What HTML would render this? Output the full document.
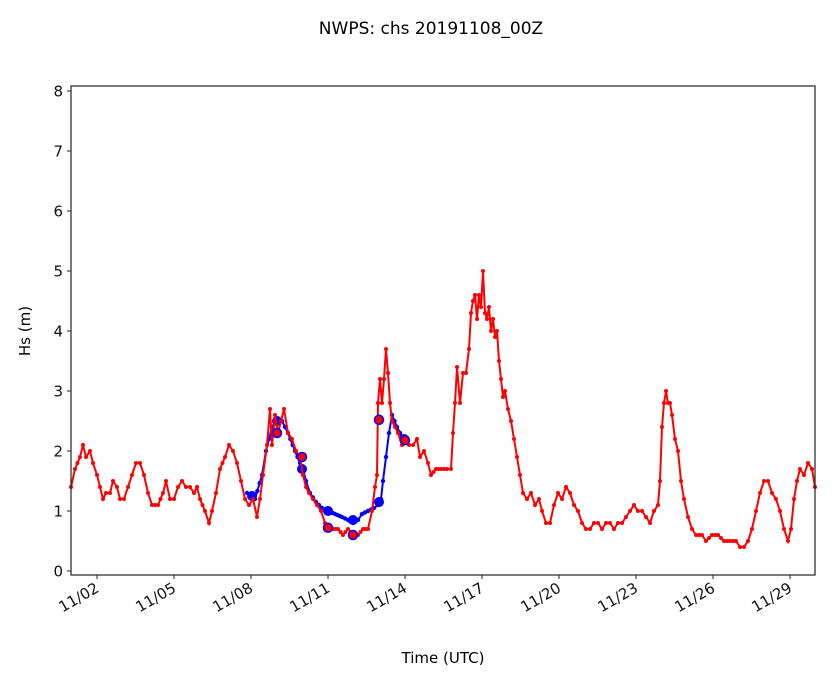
<!DOCTYPE html>
<html><head><style>
body{margin:0;background:#fff;}
svg{font-family:"DejaVu Sans","Liberation Sans",sans-serif;}
</style></head><body>
<svg id="s" width="833" height="681" xmlns="http://www.w3.org/2000/svg">
<rect width="833" height="681" fill="#fff"/>
<text x="431" y="34" font-size="17" text-anchor="middle">NWPS: chs 20191108_00Z</text>
<g id="data"></g>
<rect x="71" y="86" width="744" height="489" fill="none" stroke="#222" stroke-width="1.2"/>
<g id="ax" font-size="15" fill="#111"></g>
<text x="443" y="663" font-size="15" text-anchor="middle">Time (UTC)</text>
<text transform="translate(30,331) rotate(-90)" font-size="15" text-anchor="middle">Hs (m)</text>
</svg>
<script>
var NS="http://www.w3.org/2000/svg";
function Y(v){return 571-60*v;}
function el(t,a,p){var e=document.createElementNS(NS,t);for(var k in a)e.setAttribute(k,a[k]);(p||document.getElementById('data')).appendChild(e);return e;}
var ax=document.getElementById('ax');
for(var i=0;i<=8;i++){var y=Y(i);el('line',{x1:67,x2:71,y1:y,y2:y,stroke:'#222'},ax);var t=el('text',{x:63,y:y+5.5,'text-anchor':'end'},ax);t.textContent=i;}
var labs=['11/02','11/05','11/08','11/11','11/14','11/17','11/20','11/23','11/26','11/29'];
labs.forEach(function(l,i){var x=97+77*i;el('line',{x1:x,x2:x,y1:575,y2:579,stroke:'#222'},ax);var t=el('text',{transform:'translate('+(x+3)+',591) rotate(-30)','text-anchor':'end','font-size':'15'},ax);t.textContent=l;});
var R=[71,1.4,75,1.7,80,1.9,83,2.1,86,1.9,90,2.0,93,1.8,97,1.6,100,1.4,103,1.2,106,1.3,110,1.3,113,1.5,117,1.4,120,1.2,124,1.2,128,1.4,132,1.6,136,1.8,140,1.8,144,1.6,148,1.3,152,1.1,158,1.1,163,1.3,166,1.5,170,1.2,174,1.2,178,1.4,182,1.5,186,1.4,190,1.4,194,1.3,197,1.4,200,1.2,205,1.0,209,0.8,212,1.0,216,1.3,220,1.7,225,1.9,229,2.1,233,2.0,237,1.8,241,1.5,245,1.2,249,1.1,253,1.2,257,0.9,260,1.2,263,1.6,267,2.1,270,2.7,272,2.1,275,2.6,278,2.3,281,2.5,284,2.7,288,2.3,292,2.2,296,2.0,300,1.9,303,1.6,306,1.4,309,1.3,313,1.2,317,1.1,321,1.0,325,0.8,328,0.7,333,0.7,338,0.7,343,0.6,348,0.7,353,0.6,358,0.6,363,0.7,368,0.7,372,1.0,375,1.4,377,1.6,378,2.8,380,3.2,382,2.8,384,3.2,386,3.7,388,3.3,390,2.8,392,2.5,395,2.4,398,2.3,402,2.1,405,2.2,409,2.1,413,2.1,417,2.2,420,1.9,424,2.0,428,1.8,431,1.6,436,1.7,441,1.7,447,1.7,451,1.7,453,2.3,455,2.8,457,3.4,460,2.8,463,3.3,466,3.3,469,3.7,471,4.3,473,4.5,475,4.6,477,4.2,479,4.6,481,4.4,483,5.0,485,4.3,487,4.2,489,4.4,491,4.0,493,4.2,495,3.9,497,4.0,499,3.5,501,3.2,503,2.9,505,3.0,508,2.7,511,2.5,514,2.2,517,1.9,520,1.6,523,1.3,527,1.2,531,1.3,535,1.1,539,1.2,542,1.0,546,0.8,550,0.8,554,1.1,558,1.3,562,1.2,566,1.4,570,1.3,574,1.1,578,1.0,582,0.8,586,0.7,590,0.7,594,0.8,598,0.8,602,0.7,606,0.8,610,0.8,614,0.7,618,0.8,622,0.8,626,0.9,630,1.0,634,1.1,638,1.0,642,1.0,646,0.9,650,0.8,654,1.0,658,1.1,660,1.5,662,2.4,664,2.8,666,3.0,668,2.8,670,2.8,672,2.6,675,2.2,678,2.0,681,1.5,684,1.2,688,0.9,692,0.7,696,0.6,702,0.6,706,0.5,712,0.6,718,0.6,724,0.5,730,0.5,736,0.5,740,0.4,744,0.4,748,0.5,752,0.7,756,1.0,760,1.3,764,1.5,768,1.5,772,1.3,776,1.2,780,1.0,784,0.7,788,0.5,791,0.7,794,1.2,797,1.5,800,1.7,804,1.6,808,1.8,812,1.7,815,1.4];
var B=[247,1.3,255,1.2,262,1.6,266,2.0,272,2.4,276,2.5,282,2.5,288,2.3,295,2.0,300,1.8,303,1.7,306,1.5,310,1.3,316,1.15,322,1.05,328,1.0,335,0.95,342,0.9,348,0.85,353,0.8,358,0.85,362,0.95,368,1.0,374,1.05,378,1.1,381,1.2,383,1.5,386,1.9,389,2.3,392,2.6,397,2.4,403,2.2,406,2.2];
function dense(a,step){var p=[];for(var i=0;i<a.length-2;i+=2){var x0=a[i],v0=a[i+1],x1=a[i+2],v1=a[i+3];var n=Math.max(1,Math.round((x1-x0)/step));for(var j=0;j<n;j++){var f=j/n;p.push([x0+(x1-x0)*f,v0+(v1-v0)*f]);}}p.push([a[a.length-2],a[a.length-1]]);return p;}
function draw(a,col,step,r){var p=dense(a,step);el('polyline',{points:p.map(function(q){return q[0].toFixed(1)+','+Y(q[1]).toFixed(1)}).join(' '),fill:'none',stroke:col,'stroke-width':2});p.forEach(function(q){el('circle',{cx:q[0],cy:Y(q[1]),r:r,fill:col});});}
draw(B,'#00f',2.8,2.2);
[[252,1.25],[277,2.5],[302,1.7],[328,1.0],[353,0.85],[379,1.15],[404,2.2]].forEach(function(q){el('circle',{cx:q[0],cy:Y(q[1]),r:5,fill:'#00f'});});
draw(R,'#f00',3.2,2);
[[277,2.3],[302,1.9],[328,0.72],[353,0.6],[379,2.52],[405,2.18]].forEach(function(q){el('circle',{cx:q[0],cy:Y(q[1]),r:4.5,fill:'#f00',stroke:'#00f','stroke-width':1.5});});
</script>
</body></html>
